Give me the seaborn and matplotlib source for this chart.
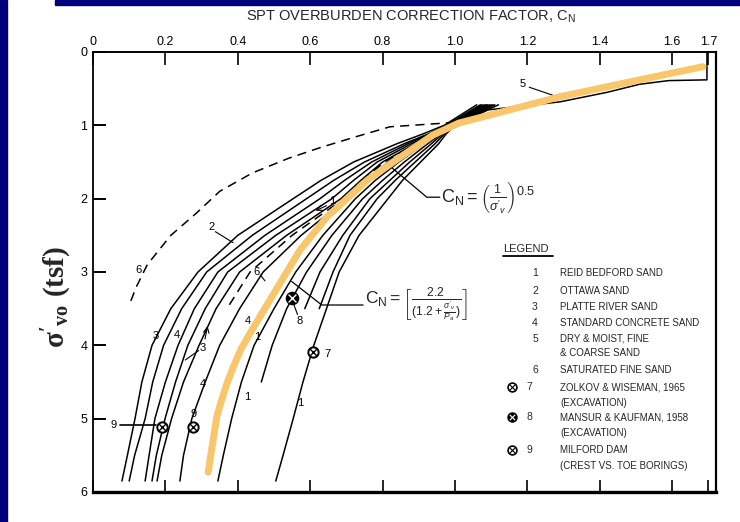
import numpy as np
import pandas as pd
import matplotlib
matplotlib.use("Agg")
import matplotlib.pyplot as plt
import seaborn as sns
from matplotlib.patches import Rectangle

# ---------------- data ----------------
X_TICKS = [0, 0.2, 0.4, 0.6, 0.8, 1.0, 1.2, 1.4, 1.6, 1.7]
X_TICK_LABELS = ["0", "0.2", "0.4", "0.6", "0.8", "1.0", "1.2", "1.4", "1.6", "1.7"]
Y_TICKS = [0, 1, 2, 3, 4, 5, 6]

# effective stress levels (tsf) at which the solid curves were read
SIGMA = [0.72, 1.0, 1.12, 1.25, 1.5, 1.75, 2.0, 2.5, 3.0, 3.5, 4.0, 4.5, 5.0, 5.5, 5.85]
CN_L1 = [1.06, 0.97, 0.91, 0.84, 0.72, 0.63, 0.553, 0.40, 0.29, 0.215, 0.163, 0.135, 0.116, 0.095, 0.08]
CN_L2 = [1.07, 0.975, 0.925, 0.86, 0.75, 0.665, 0.59, 0.44, 0.314, 0.245, 0.195, 0.165, 0.144, 0.115, 0.10]
CN_L3 = [1.075, 0.98, 0.93, 0.87, 0.77, 0.695, 0.627, 0.475, 0.345, 0.28, 0.235, 0.20, 0.171, 0.155, 0.144]
CN_L4 = [1.08, 0.985, 0.935, 0.88, 0.785, 0.72, 0.66, 0.505, 0.372, 0.31, 0.262, 0.228, 0.199, 0.175, 0.163]
CN_L5 = [1.085, 0.99, 0.94, 0.89, 0.80, 0.74, 0.685, 0.535, 0.405, 0.34, 0.293, 0.25, 0.217, 0.19, 0.177]
CN_L6 = [1.09, 0.995, 0.95, 0.90, 0.815, 0.755, 0.70, 0.575, 0.47, 0.405, 0.35, 0.31, 0.273, 0.25, 0.24]
CN_R1 = [1.095, 1.0, 0.955, 0.915, 0.845, 0.78, 0.725, 0.635, 0.56, 0.50, 0.445, 0.41, 0.383, 0.36, 0.345]
CN_R2 = [1.10, 1.0, 0.96, 0.925, 0.86, 0.80, 0.745, 0.66, 0.59, 0.535, 0.495, 0.465]
CN_R3 = [1.105, 1.0, 0.965, 0.935, 0.875, 0.82, 0.765, 0.69, 0.627, 0.585]
CN_R4 = [1.11, 1.0, 0.97, 0.945, 0.89, 0.835, 0.785, 0.71, 0.663, 0.625]
CN_R5 = [1.12, 1.0, 0.975, 0.955, 0.905, 0.855, 0.815, 0.735, 0.68, 0.645, 0.61, 0.58, 0.553, 0.525, 0.505]
CN_LD = [1.088, 0.99, 0.945, 0.895, 0.805, 0.745, 0.693, 0.55, 0.434, 0.37]   # short dashed curve

# curve 6 (saturated fine sand, dashed)
SIG_6 = [0.96, 1.02, 1.15, 1.3, 1.45, 1.65, 1.9, 2.2, 2.5, 2.9, 3.2, 3.45]
CN_6 = [1.0, 0.82, 0.73, 0.63, 0.54, 0.44, 0.35, 0.285, 0.215, 0.15, 0.12, 0.10]

# curve 5 (dry & moist fine & coarse sand), capped at 1.7
SIG_5 = [1.0, 0.79, 0.68, 0.55, 0.44, 0.39, 0.38, 0.0]
CN_5 = [1.0, 1.09, 1.29, 1.42, 1.51, 1.59, 1.696, 1.696]

# highlighted (orange) curve
SIG_OR = [0.2, 0.38, 0.61, 0.97, 1.13, 1.43, 1.75, 2.25, 2.70, 3.15, 3.61, 3.85,
          4.06, 4.3, 4.52, 4.75, 4.97, 5.35, 5.73]
CN_OR = [1.685, 1.51, 1.29, 1.01, 0.94, 0.85, 0.757, 0.646, 0.572, 0.517, 0.461, 0.432,
         0.408, 0.387, 0.37, 0.355, 0.342, 0.33, 0.318]

# field data points
PT7_CN, PT7_SIG = [0.608], [4.09]
PT8_CN, PT8_SIG = [0.55], [3.36]
PT9_CN, PT9_SIG = [0.19, 0.276], [5.11, 5.11]

LEGEND_KEYS = ["1", "2", "3", "4", "5", "", "6", "7", "", "8", "", "9", ""]
LEGEND_TEXT = ["REID BEDFORD SAND", "OTTAWA SAND", "PLATTE RIVER SAND",
               "STANDARD CONCRETE SAND", "DRY & MOIST, FINE", "& COARSE SAND",
               "SATURATED FINE SAND", "ZOLKOV & WISEMAN, 1965", "(EXCAVATION)",
               "MANSUR & KAUFMAN, 1958", "(EXCAVATION)", "MILFORD DAM",
               "(CREST VS. TOE BORINGS)"]

# ---------------- style ----------------
sns.set_style("white")
plt.rcParams["font.family"] = ["Liberation Sans", "DejaVu Sans"]
plt.rcParams["mathtext.fontset"] = "custom"
plt.rcParams["mathtext.rm"] = "Liberation Sans"
plt.rcParams["mathtext.it"] = "Liberation Sans:italic"
plt.rcParams["mathtext.bf"] = "Liberation Serif:bold"
plt.rcParams["mathtext.sf"] = "Liberation Sans"

BLUE = "#00007A"
ORANGE = "#F9C66B"

fig = plt.figure(figsize=(7.4, 5.22), dpi=100)
fig.patch.set_facecolor("white")
fig.add_artist(Rectangle((0, 0), 7 / 740, 1, transform=fig.transFigure,
                         color=BLUE, zorder=0))
fig.add_artist(Rectangle((55 / 740, 1 - 5 / 522), 1, 5 / 522, transform=fig.transFigure,
                         color=BLUE, zorder=0))

ax = fig.add_axes([93 / 740, 1 - 492 / 522, (716 - 93) / 740, (492 - 52) / 522])
ax.set_facecolor("white")

# ---------------- curves ----------------
solid = {"L1": CN_L1, "L2": CN_L2, "L3": CN_L3, "L4": CN_L4, "L5": CN_L5, "L6": CN_L6,
         "R1": CN_R1, "R2": CN_R2, "R3": CN_R3, "R4": CN_R4, "R5": CN_R5}
rows = []
for name, vals in solid.items():
    for s, c in zip(SIGMA, vals):
        rows.append({"curve": name, "cn": c, "sigma": s})
for s, c in zip(SIG_5, CN_5):
    rows.append({"curve": "C5", "cn": c, "sigma": s})
df_solid = pd.DataFrame(rows)

rows = []
for s, c in zip(SIGMA, CN_LD):
    rows.append({"curve": "LD", "cn": c, "sigma": s})
for s, c in zip(SIG_6, CN_6):
    rows.append({"curve": "C6", "cn": c, "sigma": s})
df_dash = pd.DataFrame(rows)

sns.lineplot(data=df_solid, x="cn", y="sigma", units="curve", estimator=None,
             sort=False, color="black", lw=1.1, ax=ax, legend=False)
sns.lineplot(data=df_dash, x="cn", y="sigma", units="curve", estimator=None,
             sort=False, color="black", lw=1.1, ax=ax, legend=False,
             dashes=False, linestyle=(0, (6, 4)))

df_or = pd.DataFrame({"cn": CN_OR, "sigma": SIG_OR})
sns.lineplot(data=df_or, x="cn", y="sigma", estimator=None, sort=False,
             color=ORANGE, lw=5, ax=ax, legend=False, zorder=5)

# field points
def cross_circle(xs, ys, filled=False, size=55):
    ax.scatter(xs, ys, s=size, marker="o", facecolor="black" if filled else "white",
               edgecolor="black", linewidth=1.4, zorder=6)
    ax.scatter(xs, ys, s=size * 0.45, marker="x",
               color="white" if filled else "black", linewidth=1.0, zorder=7)

cross_circle(PT7_CN, PT7_SIG)
cross_circle(PT8_CN, PT8_SIG, filled=True, size=70)
cross_circle(PT9_CN, PT9_SIG)

# ---------------- curve labels ----------------
lab = dict(fontsize=8, color="black", ha="center", va="center", zorder=8)
ax.text(0.125, 2.97, "6", **lab)
ax.text(0.452, 3.0, "6", **lab)
ax.plot([0.462, 0.475], [3.04, 3.12], color="black", lw=0.8)
ax.text(0.328, 2.39, "2", **lab)
ax.plot([0.338, 0.387], [2.45, 2.6], color="black", lw=0.8)
ax.text(0.662, 2.03, "1", **lab)
ax.annotate("", xy=(0.608, 2.18), xytext=(0.652, 2.08),
            arrowprops=dict(arrowstyle="->", lw=0.8, color="black"))
ax.text(0.174, 3.87, "3", **lab)
ax.text(0.231, 3.86, "4", **lab)
ax.text(0.304, 4.03, "3", **lab)
ax.annotate("", xy=(0.318, 3.7), xytext=(0.308, 3.95),
            arrowprops=dict(arrowstyle="->", lw=0.8, color="black"))
ax.plot([0.292, 0.255], [4.07, 4.2], color="black", lw=0.8)
ax.text(0.304, 4.53, "4", **lab)
ax.text(0.428, 3.67, "4", **lab)
ax.text(0.453, 3.89, "1", **lab)
ax.text(0.425, 4.70, "1", **lab)
ax.text(0.572, 4.79, "1", **lab)
ax.text(0.648, 4.12, "7", **lab)
ax.text(0.572, 3.67, "8", **lab)
ax.plot([0.553, 0.565], [3.42, 3.58], color="black", lw=0.8)
ax.text(0.277, 4.93, "9", **lab)
ax.text(0.056, 5.08, "9", **lab)
ax.plot([0.075, 0.175], [5.08, 5.08], color="black", lw=1.2)
ax.text(1.188, 0.44, "5", **lab)
ax.plot([1.205, 1.276], [0.48, 0.6], color="black", lw=0.8)

# formula annotations
ax.text(0.962, 1.98, r"$\mathrm{C_N} = \left(\frac{1}{\sigma'_v}\right)^{0.5}$",
        fontsize=13, ha="left", va="center", zorder=8)
ax.plot([0.958, 0.922, 0.826], [1.98, 1.98, 1.58], color="black", lw=0.9)
ax.text(0.752, 3.45, r"$\mathrm{C_N} = \left[\frac{2.2}{(1.2+\frac{\sigma'_v}{P_a})}\right]$",
        fontsize=12.5, ha="left", va="center", zorder=8)
ax.plot([0.746, 0.632, 0.549], [3.45, 3.45, 3.13], color="black", lw=0.9)

# ---------------- legend block ----------------
ax.text(1.133, 2.68, "LEGEND", fontsize=8, ha="left", va="center")
ax.plot([1.133, 1.27], [2.78, 2.78], color="black", lw=1.3)
leg_rows = [3.02, 3.26, 3.48, 3.70, 3.91, 4.11, 4.34, 4.57, 4.78, 4.98, 5.20, 5.43, 5.64]
for key, txt, yy in zip(LEGEND_KEYS, LEGEND_TEXT, leg_rows):
    if key:
        kx = 1.221 if key not in ("7", "8", "9") else 1.205
        ax.text(kx, yy, key, fontsize=7.5, ha="center", va="center")
    ax.text(1.29, yy, txt, fontsize=7, ha="left", va="center")
for yy, filled in ((4.57, False), (4.98, True), (5.43, False)):
    ax.scatter([1.158], [yy], s=40, marker="o", facecolor="black" if filled else "white",
               edgecolor="black", lw=1.2, zorder=6)
    ax.scatter([1.158], [yy], s=15, marker="x", color="white" if filled else "black",
               lw=0.8, zorder=7)

# ---------------- axes ----------------
ax.set_xlim(0, 1.721)
ax.set_ylim(6, 0)
ax.set_xticks(X_TICKS)
ax.set_xticklabels(X_TICK_LABELS)
ax.set_yticks(Y_TICKS)
ax.set_yticklabels([str(v) for v in Y_TICKS])
ax.xaxis.tick_top()
ax.tick_params(axis="x", which="both", top=True, bottom=True, labeltop=True,
               labelbottom=False, direction="in", length=9, width=1.2,
               labelsize=9, pad=3, colors="black")
ax.tick_params(axis="y", left=True, right=False, direction="in", length=9,
               width=1.4, labelsize=9, pad=4, colors="black")
ax.set_xlabel("")
ax.set_ylabel("")
for side, lw in (("top", 1.4), ("left", 1.3), ("right", 1.6), ("bottom", 2.4)):
    ax.spines[side].set_visible(True)
    ax.spines[side].set_color("black")
    ax.spines[side].set_linewidth(lw)

fig.text(411 / 740, 1 - 17 / 522, r"SPT OVERBURDEN CORRECTION FACTOR, C$_\mathrm{N}$",
         fontsize=10.5, ha="center", va="center")
fig.text(57 / 740, 1 - 297 / 522, r"$\mathbf{\sigma'_{vo}}$ (tsf)",
         family=["Liberation Serif", "DejaVu Serif"], weight="bold",
         fontsize=21, rotation=90, ha="center", va="center")

fig.savefig("out.png", dpi=100, facecolor=fig.get_facecolor())
